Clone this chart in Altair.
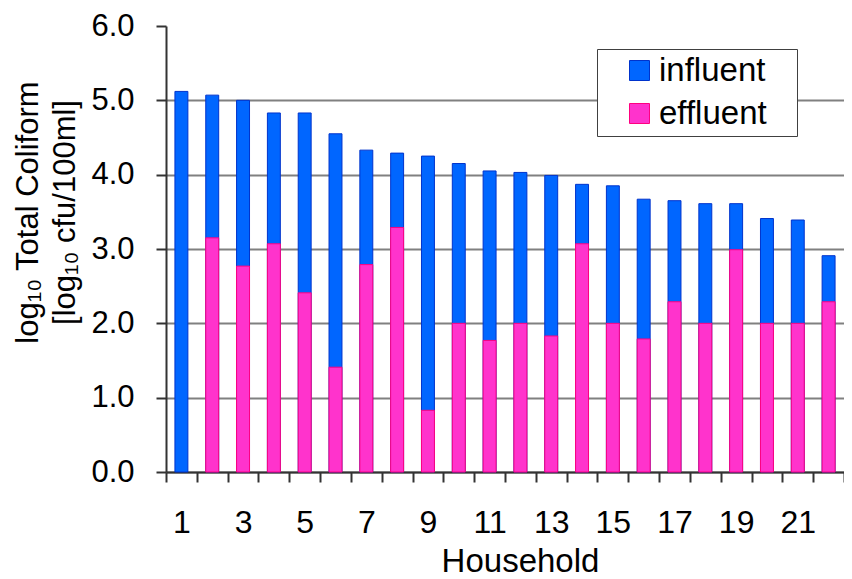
import altair as alt
import pandas as pd

households = list(range(1, 23))
influent = [5.12, 5.07, 5.00, 4.83, 4.83, 4.55, 4.33, 4.29, 4.25, 4.15, 4.05,
            4.03, 3.99, 3.87, 3.85, 3.67, 3.65, 3.61, 3.61, 3.41, 3.39, 2.91]
effluent = [None, 3.15, 2.77, 3.07, 2.41, 1.41, 2.79, 3.29, 0.83, 2.00, 1.77,
            2.00, 1.83, 3.07, 2.00, 1.79, 2.29, 2.00, 2.99, 2.00, 2.00, 2.29]
series = ["influent", "effluent"]
fill_colors = ["#0066FF", "#FF33CC"]
stroke_colors = ["#0033CC", "#FF0080"]
y_ticks = [0, 1, 2, 3, 4, 5, 6]

rows = []
for s, vals in zip(series, [influent, effluent]):
    for h, v in zip(households, vals):
        rows.append({"household": h, "series": s, "value": v})
df = pd.DataFrame(rows)

FONT = "Liberation Sans"
# trailing non-trimmed spacing so the legend box matches the reference width
PAD_TXT = "\u00a0\u00a0\u2009\u200b"

legend = alt.Legend(
    title=None, orient="none", legendX=431, legendY=23,
    symbolType="square", symbolSize=400, symbolStrokeWidth=1,
    labelFontSize=33, labelFont=FONT, labelColor="black", labelOffset=3,
    rowPadding=9, padding=5, symbolOffset=21,
    strokeColor="#404040", fillColor="white",
    labelExpr="datum.label + '" + PAD_TXT + "'",
)

chart = alt.Chart(df).mark_bar(strokeWidth=1, width=alt.RelativeBandSize(0.42)).encode(
    x=alt.X(
        "household:O",
        scale=alt.Scale(paddingInner=0, paddingOuter=0),
        axis=alt.Axis(
            title="Household", labelAngle=0,
            labelExpr="toNumber(datum.value) % 2 == 1 ? datum.label : ''",
            tickBand="extent", tickSize=10, tickWidth=2, tickColor="#333333",
            domainColor="#333333", domainWidth=2,
            labelPadding=25, labelFontSize=32, labelFont=FONT, labelColor="black",
            titleFontSize=33, titleFont=FONT, titleFontWeight="normal", titleColor="black",
            titleX=354, titleY=99, titleBaseline="alphabetic", titleAlign="center",
            grid=False,
        ),
    ),
    y=alt.Y(
        "value:Q", stack=None,
        scale=alt.Scale(domain=[0, 6], nice=False),
        axis=alt.Axis(
            values=y_ticks, format=".1f",
            title=["log₁₀ Total Coliform", "[log₁₀ cfu/100ml]"],
            titleFontSize=31, titleFont=FONT, titleFontWeight="normal", titleColor="black",
            titleAngle=270, titleX=-129, titleY=186, titleAlign="center",
            titleBaseline="alphabetic", titleLineHeight=37,
            labelFontSize=31, labelFont=FONT, labelColor="black", labelPadding=22,
            tickSize=10, tickWidth=2, tickColor="#333333",
            domainColor="#333333", domainWidth=2,
            gridColor={"condition": {"test": "datum.value >= 6", "value": "transparent"},
                       "value": "#808080"},
            gridWidth=2,
        ),
    ),
    fill=alt.Fill("series:N", scale=alt.Scale(domain=series, range=fill_colors), legend=legend),
    stroke=alt.Stroke("series:N", scale=alt.Scale(domain=series, range=stroke_colors), legend=legend),
).properties(
    width=678, height=446,
    autosize=alt.AutoSizeParams(type="none"),
    padding={"left": 158, "top": 18, "right": 0, "bottom": 107},
    background="white",
).configure_view(stroke=None)

chart.save("out.html", embed_options={"renderer": "svg", "actions": False})
